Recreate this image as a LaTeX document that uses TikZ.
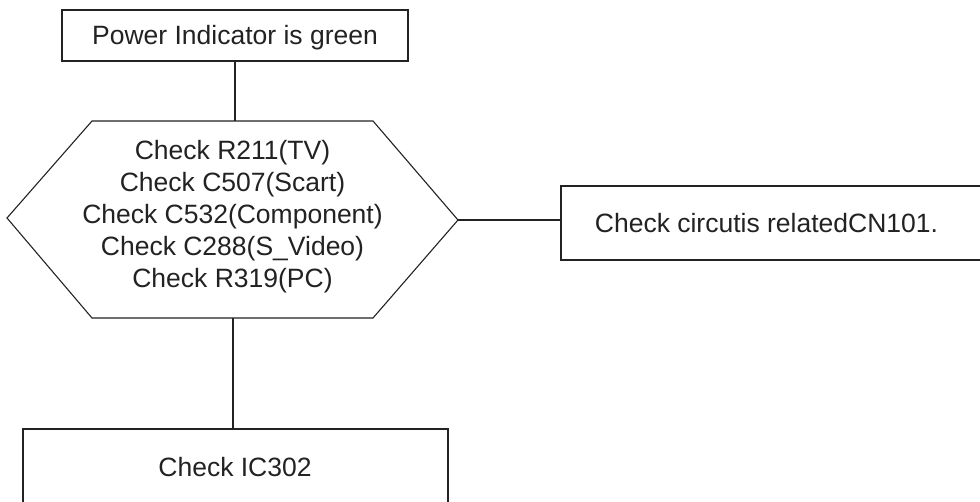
\documentclass[tikz,border=0pt]{standalone}
\usepackage{fontspec}
\setmainfont{Liberation Sans}
\definecolor{ink}{HTML}{222222}
\begin{document}
\begin{tikzpicture}[x=1pt,y=-1pt,
  box/.style={draw=ink,line width=1.1pt,rectangle,inner sep=0pt},
  txt/.style={text=ink,font=\fontsize{26.5}{32}\selectfont,inner sep=0pt},
  conn/.style={draw=ink,line width=1.1pt}]
\useasboundingbox (0,0) rectangle (980,502);
\clip (0,0) rectangle (980,502);
% boxes
\node[box,minimum width=346pt,minimum height=51pt] (top) at (235,35.5) {};
\node[txt,anchor=base] (toptxt) at (235,45) {Power Indicator is green};
\node[box,minimum width=430pt,minimum height=74pt] (right) at (776,223) {};
\node[txt,anchor=base] (righttxt) at (766.5,233) {Check circutis relatedCN101.};
\node[box,minimum width=425pt,minimum height=76pt] (bottom) at (235.5,467) {};
\node[txt,anchor=base] (bottomtxt) at (235,476) {Check IC302};
% hexagon
\coordinate (hexN) at (235,121);
\coordinate (hexS) at (233,318);
\coordinate (hexE) at (458,220);
\draw[conn,line join=miter] (92,121) -- (373,121) -- (hexE) -- (373,318) -- (92,318) -- (7,218) -- cycle;
\node[txt,align=center] (hex) at (232.5,216.5) {Check R211(TV)\\Check C507(Scart)\\Check C532(Component)\\Check C288(S\_Video)\\Check R319(PC)};
% connectors
\draw[conn] (top.south) -- (hexN);
\draw[conn] (hexE) -- (hexE -| right.west);
\draw[conn] (hexS) -- (hexS |- bottom.north);
\end{tikzpicture}
\end{document}
